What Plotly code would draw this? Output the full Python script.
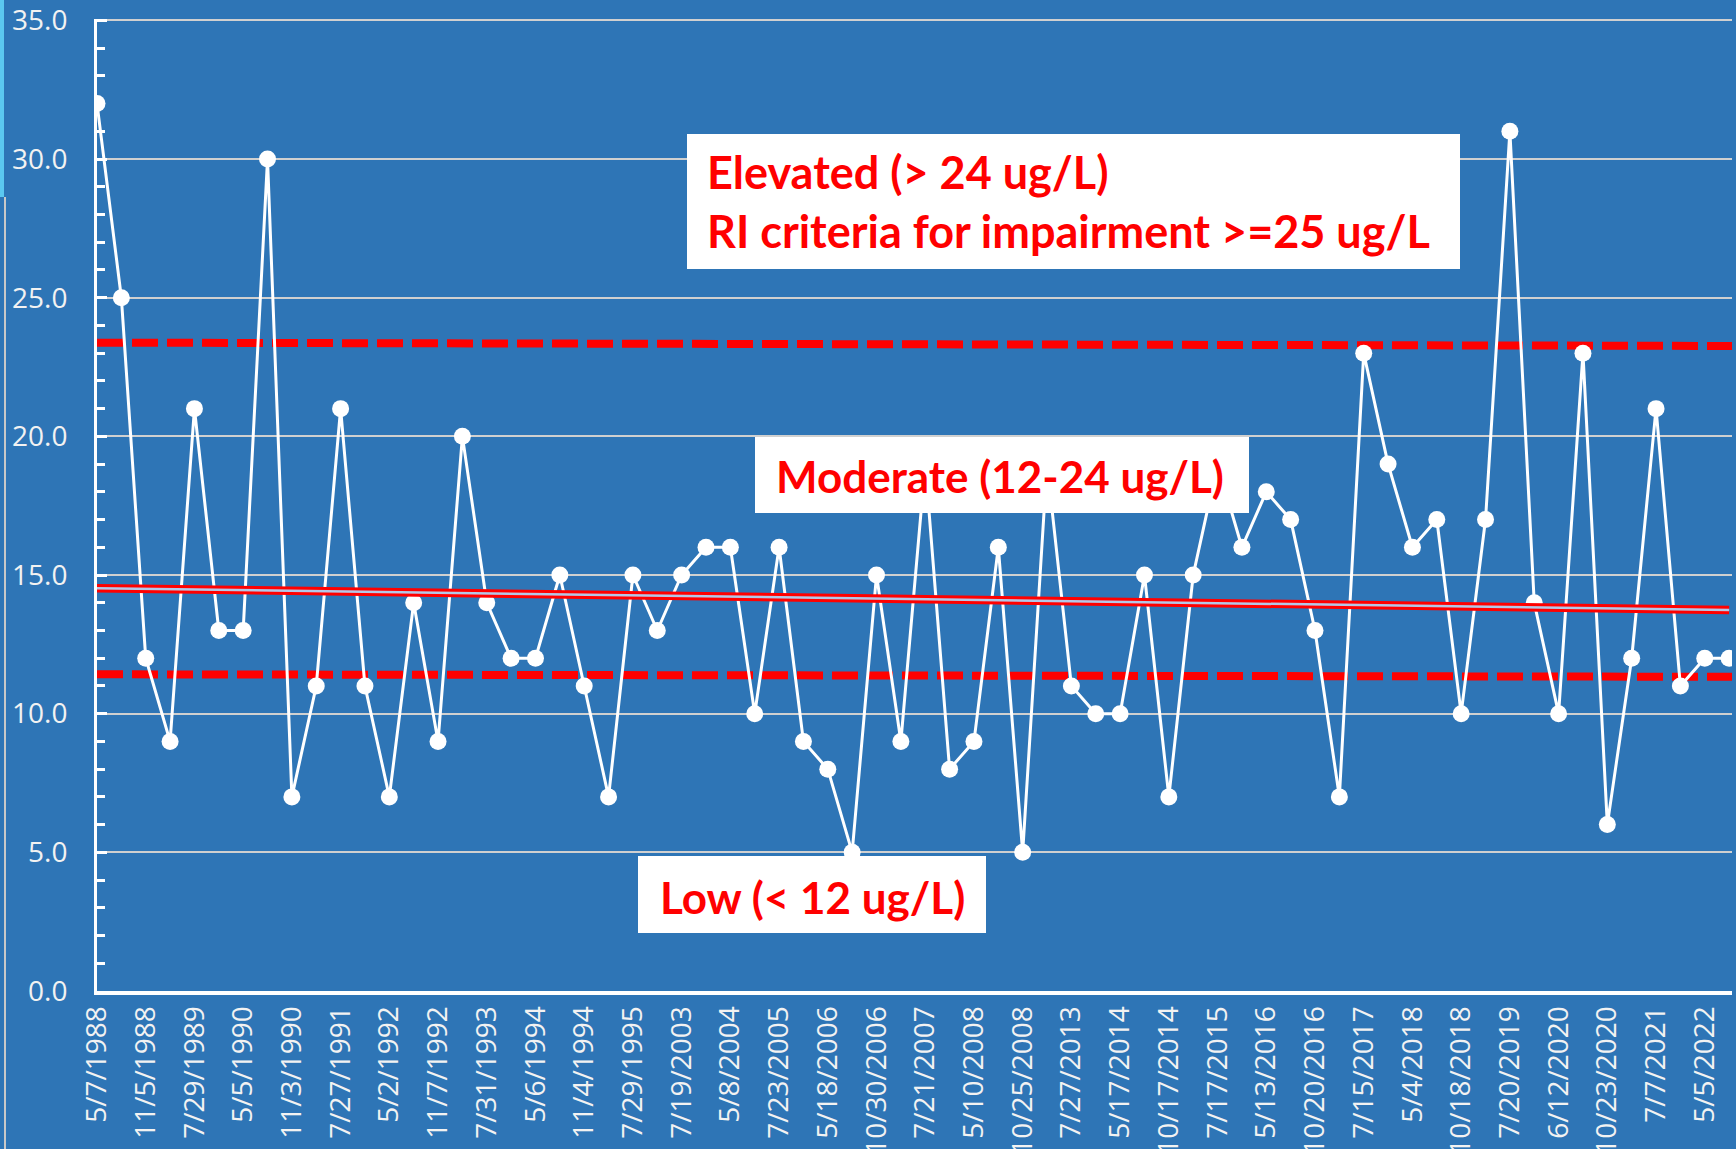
import numpy as np
import plotly.graph_objects as go

# ---- data ----
tick_labels = ["5/7/1988", "11/5/1988", "7/29/1989", "5/5/1990", "11/3/1990", "7/27/1991",
               "5/2/1992", "11/7/1992", "7/31/1993", "5/6/1994", "11/4/1994", "7/29/1995",
               "7/19/2003", "5/8/2004", "7/23/2005", "5/18/2006", "10/30/2006", "7/21/2007",
               "5/10/2008", "10/25/2008", "7/27/2013", "5/17/2014", "10/17/2014", "7/17/2015",
               "5/13/2016", "10/20/2016", "7/15/2017", "5/4/2018", "10/18/2018", "7/20/2019",
               "6/12/2020", "10/23/2020", "7/7/2021", "5/5/2022"]

values = [32, 25, 12, 9, 21, 13, 13, 30, 7, 11,
          21, 11, 7, 14, 9, 20, 14, 12, 12, 15,
          11, 7, 15, 13, 15, 16, 16, 10, 16, 9,
          8, 5, 15, 9, 19, 8, 9, 16, 5, 19,
          11, 10, 10, 15, 7, 15, 19, 16, 18, 17,
          13, 7, 23, 19, 16, 17, 10, 17, 31, 14,
          10, 23, 6, 12, 21, 11, 12, 12]

y_ticks = [0, 5, 10, 15, 20, 25, 30, 35]

upper_limit = [23.38, 23.26]   # dashed reference line, left/right ends
lower_limit = [11.42, 11.33]

box_texts = {
    "elevated": ["Elevated (> 24 ug/L)", "RI criteria for impairment >=25 ug/L"],
    "moderate": ["Moderate (12-24 ug/L)"],
    "low": ["Low (< 12 ug/L)"],
}

# ---- figure ----
W, H = 1736, 1149
ML, MR, MT, MB = 97, 4, 19, 158
PW, PH = W - ML - MR, H - MT - MB
YMAX = 35.05

def px(xp):
    return (xp - ML) / PW

def py(yp):
    return (H - MB - yp) / PH

n = len(values)
idx = np.arange(n)
BG = "#2E75B6"

fig = go.Figure()

fig.add_trace(go.Scatter(
    x=idx, y=values, mode="lines+markers",
    line=dict(color="white", width=3),
    marker=dict(color="white", size=17),
    showlegend=False, hoverinfo="y"))

# linear trend
coef = np.polyfit(idx, values, 1)
tx = np.array([0, n - 1])
ty = np.polyval(coef, tx)
fig.add_trace(go.Scatter(x=tx, y=ty, mode="lines", line=dict(color="#FF0000", width=8.5),
                         showlegend=False, hoverinfo="skip"))
fig.add_trace(go.Scatter(x=tx, y=ty, mode="lines", line=dict(color="#B4C7E7", width=2.5),
                         showlegend=False, hoverinfo="skip"))

shapes = []
for lim in (upper_limit, lower_limit):
    shapes.append(dict(type="line", xref="paper", yref="y", x0=0, x1=1, y0=lim[0], y1=lim[1],
                       line=dict(color="#FF0000", width=8, dash="26px,9px"), layer="between"))

boxes = [
    (687, 1460, 134, 269),
    (755, 1249, 437, 513),
    (638, 986, 856, 933),
]
for x0, x1, y0, y1 in boxes:
    shapes.append(dict(type="rect", xref="paper", yref="paper",
                       x0=px(x0), x1=px(x1), y0=py(y1), y1=py(y0),
                       fillcolor="white", line=dict(width=0), layer="above"))

# slide edge decorations
shapes.append(dict(type="rect", xref="paper", yref="paper", x0=px(0), x1=px(4), y0=py(197), y1=py(0),
                   fillcolor="#5BC8F0", line=dict(width=0)))
shapes.append(dict(type="line", xref="paper", yref="paper", x0=px(5), x1=px(5), y0=py(1149), y1=py(197),
                   line=dict(color="#C8C8C8", width=2)))

def afont(size):
    return dict(family="Lato, 'Open Sans', sans-serif", size=size, color="#FF0000")

def btxt(lines):
    return "<br>".join("<b>" + s + "</b>" for s in lines)

annotations = [
    dict(text=btxt(box_texts["elevated"]), xref="paper", yref="paper", x=px(705), y=py(202),
         xanchor="left", yanchor="middle", align="left", showarrow=False, font=afont(45)),
    dict(text=btxt(box_texts["moderate"]), xref="paper", yref="paper", x=px(774), y=py(476),
         xanchor="left", yanchor="middle", showarrow=False, font=afont(44)),
    dict(text=btxt(box_texts["low"]), xref="paper", yref="paper", x=px(658), y=py(897),
         xanchor="left", yanchor="middle", showarrow=False, font=afont(44)),
]

tfont = dict(family="'Open Sans', sans-serif", size=28, color="#F2F2F2")

fig.update_layout(
    width=W, height=H,
    margin=dict(l=ML, r=MR, t=MT, b=MB, pad=0),
    paper_bgcolor=BG, plot_bgcolor=BG,
    shapes=shapes, annotations=annotations,
    xaxis=dict(range=[0, PW / 24.36], tickmode="array",
               tickvals=idx[::2], ticktext=tick_labels, tickangle=-90,
               tickfont=tfont, showgrid=False, zeroline=False,
               showline=True, linecolor="white", linewidth=4,
               ticks="", automargin=False, ticklabelstandoff=0),
    yaxis=dict(range=[0, YMAX], tickmode="array", tickvals=y_ticks, tickformat=".1f", tickfont=tfont,
               showgrid=True, gridcolor="#D0D0D0", gridwidth=1.5, zeroline=False,
               showline=True, linecolor="white", linewidth=3,
               ticks="inside", ticklen=10, tickwidth=3, tickcolor="white",
               minor=dict(dtick=1, ticks="inside", ticklen=8, tickwidth=3, tickcolor="white",
                          showgrid=False),
               ticklabeloverflow="allow",
               automargin=False, ticklabelstandoff=21),
)

fig.write_html("out.html", config={"displayModeBar": False},
               post_script="document.body.style.margin='0';")
